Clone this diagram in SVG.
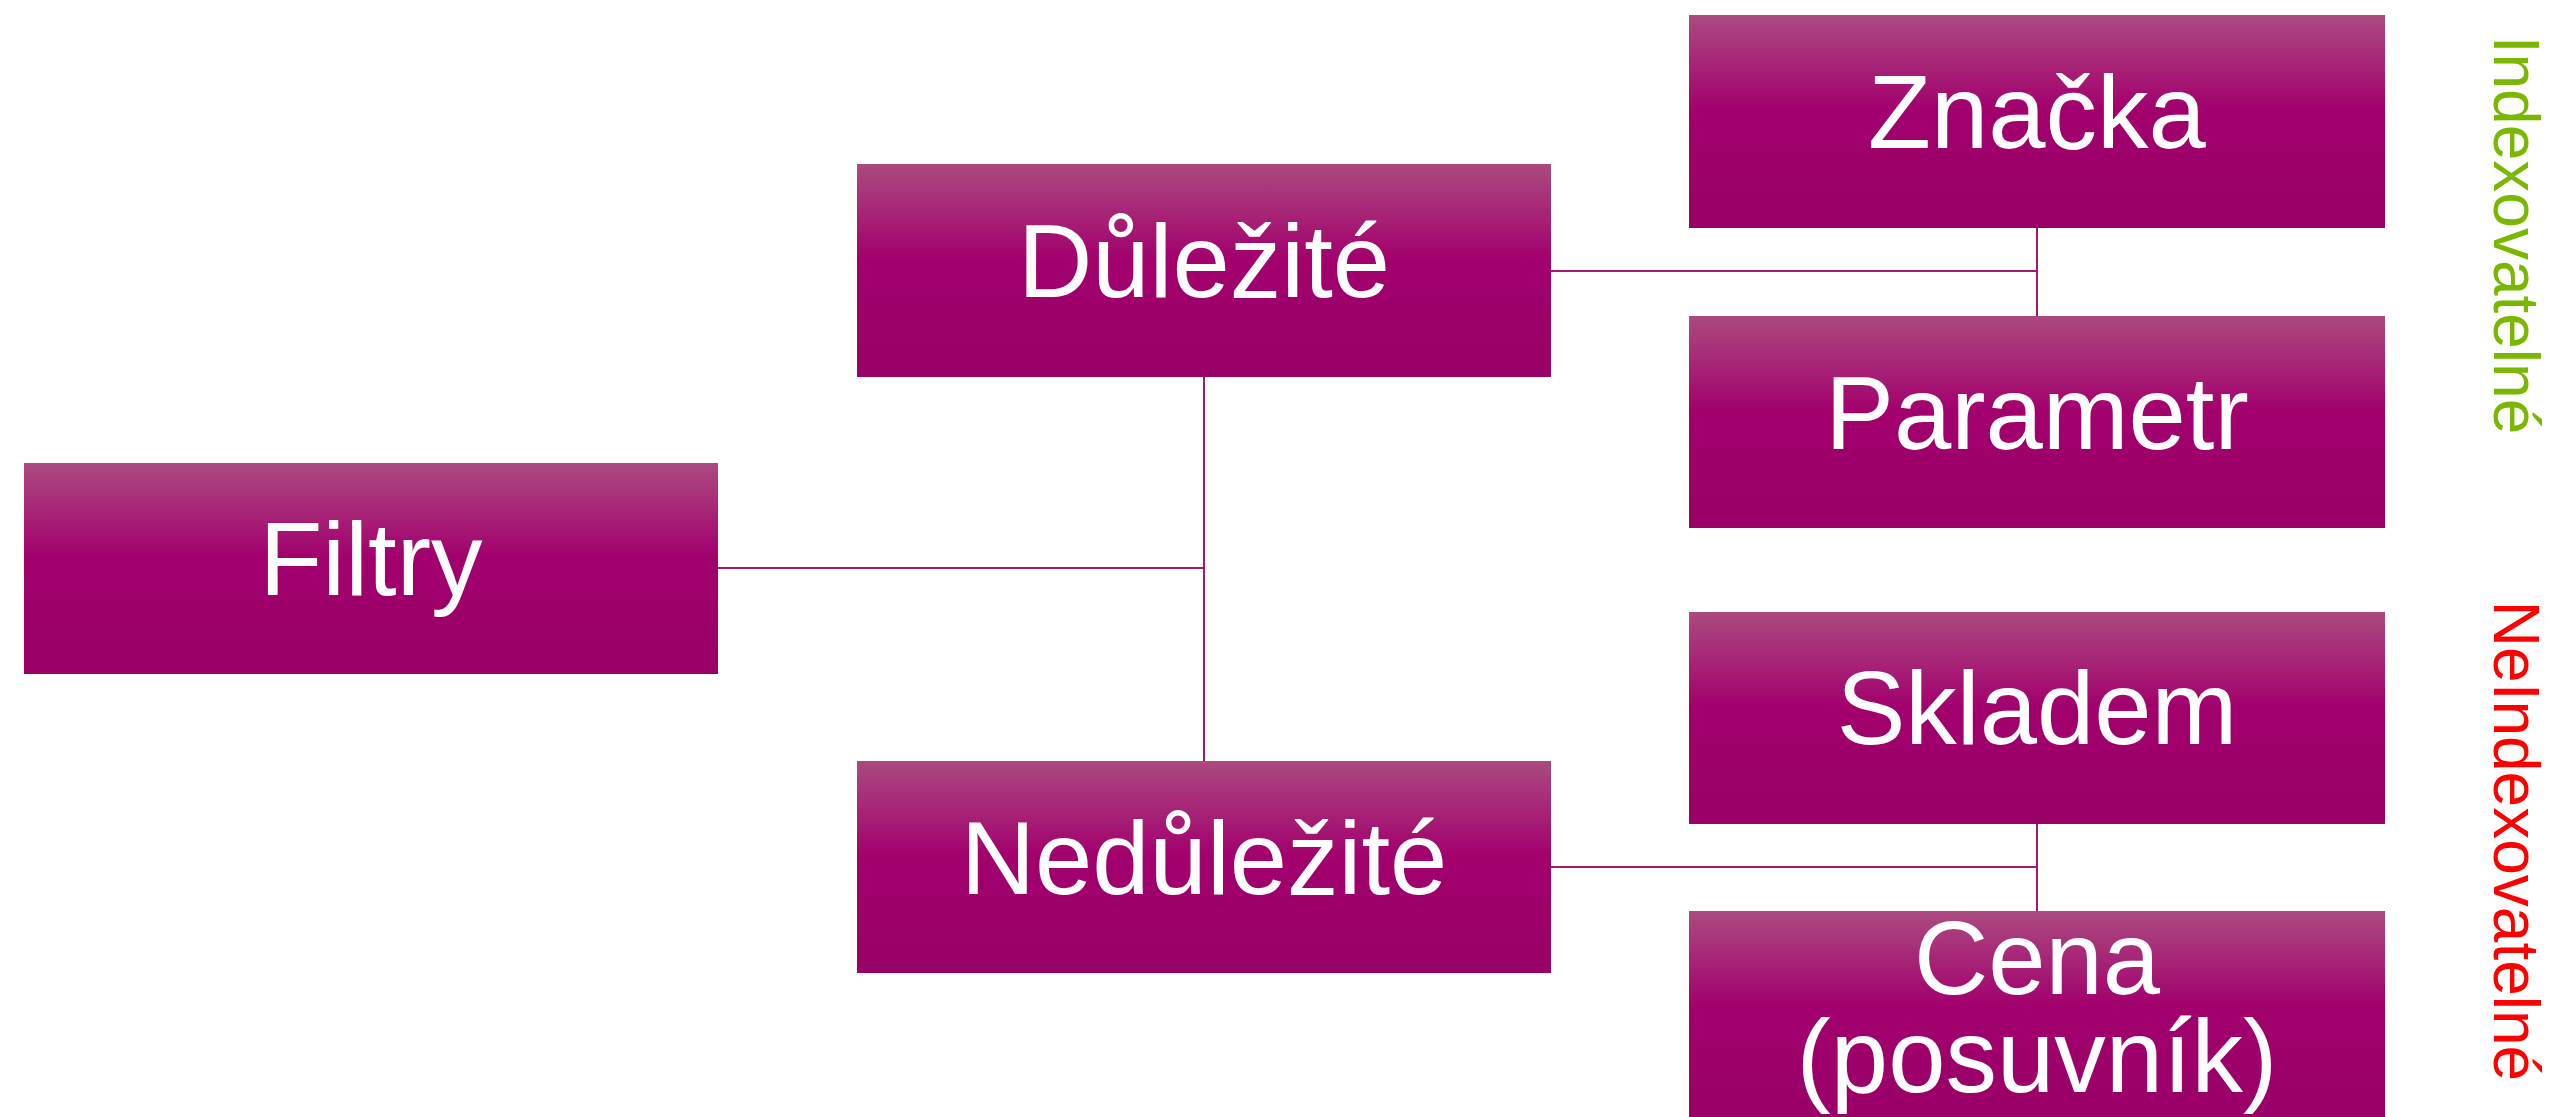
<svg xmlns="http://www.w3.org/2000/svg" width="2550" height="1117" viewBox="0 0 2550 1117">
<defs>
<linearGradient id="g" x1="0" y1="0" x2="0" y2="1">
<stop offset="0" stop-color="#ab4a80"/>
<stop offset="0.45" stop-color="#a2006d"/>
<stop offset="1" stop-color="#990067"/>
</linearGradient>
<style>
.box{fill:url(#g)}
.t{font-family:"Liberation Sans",Arial,sans-serif;font-size:103px;fill:#fff;text-anchor:middle}
.c{stroke:#a11a70;stroke-width:2;fill:none}
.side{font-family:"Liberation Sans",Arial,sans-serif;font-size:64px;text-anchor:middle}
</style>
</defs>
<rect width="2550" height="1117" fill="#fff"/>
<g id="connectors">
<path class="c" d="M718 568H1204M1204 377V761"/>
<path class="c" d="M1551 271H2037M2037 228V316"/>
<path class="c" d="M1551 867H2037M2037 824V911"/>
</g>
<g id="filtry"><rect class="box" x="24" y="463" width="694" height="211"/><text class="t" x="371" y="595">Filtry</text></g>
<g id="dulezite"><rect class="box" x="857" y="164" width="694" height="213"/><text class="t" x="1204" y="297">Důležité</text></g>
<g id="nedulezite"><rect class="box" x="857" y="761" width="694" height="212"/><text class="t" x="1204" y="894">Nedůležité</text></g>
<g id="znacka"><rect class="box" x="1689" y="15" width="696" height="213"/><text class="t" x="2037" y="148">Značka</text></g>
<g id="parametr"><rect class="box" x="1689" y="316" width="696" height="212"/><text class="t" x="2037" y="449">Parametr</text></g>
<g id="skladem"><rect class="box" x="1689" y="612" width="696" height="212"/><text class="t" x="2037" y="744">Skladem</text></g>
<g id="cena"><rect class="box" x="1689" y="911" width="696" height="212"/><text class="t" x="2037" y="994">Cena</text><text class="t" x="2037" y="1092">(posuvník)</text></g>
<g id="indexovatelne"><text class="side" fill="#7ab800" transform="translate(2494 235) rotate(90)">Indexovatelné</text></g>
<g id="neindexovatelne"><text class="side" fill="#ff0000" transform="translate(2494 841) rotate(90)">NeIndexovatelné</text></g>
</svg>
